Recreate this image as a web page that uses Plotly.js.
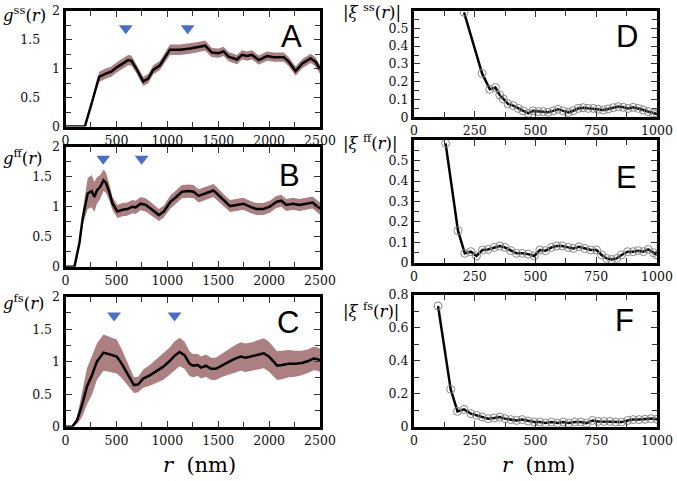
<!DOCTYPE html>
<html>
<head>
<meta charset="utf-8">
<script src="https://cdn.plot.ly/plotly-3.0.1.min.js"></script>
<style>
  html, body { margin: 0; padding: 0; background: #fff; }
  #chart { width: 677px; height: 481px; }
</style>
</head>
<body>
<div id="chart"></div>
<script>
// g^ss(r) : panel A
const rA = [0, 190, 260, 330, 401, 450, 500, 566, 615, 648, 697, 763, 812, 862, 928, 1026, 1125, 1224, 1289, 1372, 1438, 1503, 1553, 1602, 1684, 1734, 1783, 1832, 1898, 1980, 2046, 2145, 2194, 2260, 2326, 2408, 2457, 2500];
const gA = [0, 0, 0.42, 0.86, 0.92, 0.95, 1.02, 1.09, 1.15, 1.14, 1.0, 0.78, 0.83, 0.98, 1.06, 1.33, 1.33, 1.35, 1.37, 1.40, 1.28, 1.27, 1.30, 1.21, 1.16, 1.24, 1.22, 1.24, 1.15, 1.22, 1.20, 1.20, 1.12, 0.96, 1.09, 1.18, 1.12, 0.99];
const eA = [0, 0, 0.02, 0.09, 0.09, 0.09, 0.09, 0.09, 0.09, 0.09, 0.08, 0.08, 0.08, 0.08, 0.08, 0.09, 0.09, 0.09, 0.09, 0.09, 0.08, 0.08, 0.08, 0.08, 0.08, 0.08, 0.08, 0.08, 0.08, 0.08, 0.08, 0.08, 0.08, 0.08, 0.08, 0.08, 0.08, 0.08];

// g^ff(r) : panel B
const rB = [0, 88, 137, 169, 218, 257, 283, 309, 341, 374, 397, 429, 462, 510, 559, 608, 657, 689, 738, 787, 836, 884, 917, 966, 1031, 1079, 1144, 1209, 1258, 1307, 1356, 1404, 1453, 1486, 1551, 1616, 1681, 1746, 1811, 1876, 1941, 2006, 2071, 2120, 2168, 2233, 2298, 2363, 2428, 2477, 2500];
const gB = [0, 0, 0.40, 0.81, 1.22, 1.26, 1.16, 1.27, 1.33, 1.44, 1.40, 1.25, 1.05, 0.92, 0.95, 0.96, 1.00, 0.99, 1.05, 1.03, 0.97, 0.90, 0.86, 0.92, 1.08, 1.15, 1.25, 1.26, 1.25, 1.18, 1.21, 1.25, 1.27, 1.22, 1.11, 1.01, 1.03, 1.05, 1.00, 0.96, 0.96, 1.00, 1.08, 1.10, 1.03, 1.05, 1.03, 1.05, 1.07, 1.00, 0.97];
const eB = [0, 0, 0.02, 0.12, 0.26, 0.27, 0.25, 0.22, 0.2, 0.18, 0.17, 0.14, 0.11, 0.11, 0.11, 0.11, 0.11, 0.11, 0.11, 0.11, 0.11, 0.1, 0.1, 0.1, 0.11, 0.11, 0.11, 0.11, 0.11, 0.11, 0.11, 0.11, 0.11, 0.11, 0.1, 0.1, 0.1, 0.1, 0.1, 0.1, 0.1, 0.1, 0.1, 0.1, 0.1, 0.1, 0.1, 0.1, 0.1, 0.1, 0.1];

// g^fs(r) : panel C
const rC = [0, 65, 114, 162, 211, 260, 308, 373, 438, 503, 552, 617, 672, 714, 763, 828, 893, 958, 1023, 1071, 1120, 1169, 1218, 1250, 1299, 1331, 1380, 1429, 1477, 1542, 1607, 1672, 1721, 1769, 1834, 1899, 1948, 1997, 2045, 2078, 2127, 2192, 2256, 2321, 2386, 2435, 2477, 2500];
const gC = [0, 0, 0.10, 0.33, 0.62, 0.79, 1.00, 1.14, 1.11, 1.08, 0.97, 0.79, 0.64, 0.65, 0.74, 0.79, 0.86, 0.92, 1.01, 1.09, 1.15, 1.10, 0.97, 0.94, 0.95, 0.91, 0.94, 0.89, 0.89, 0.95, 1.00, 1.05, 1.08, 1.06, 1.08, 1.11, 1.13, 1.08, 1.00, 0.94, 0.95, 0.97, 0.97, 0.98, 1.01, 1.05, 1.04, 1.02];
const eC = [0, 0, 0.06, 0.18, 0.28, 0.3, 0.28, 0.28, 0.27, 0.26, 0.22, 0.16, 0.12, 0.12, 0.14, 0.16, 0.18, 0.2, 0.21, 0.22, 0.22, 0.21, 0.19, 0.18, 0.17, 0.17, 0.17, 0.17, 0.17, 0.18, 0.2, 0.21, 0.22, 0.22, 0.22, 0.23, 0.23, 0.23, 0.22, 0.22, 0.22, 0.21, 0.2, 0.19, 0.18, 0.18, 0.18, 0.18];

// |xi^ss(r)| : panel D
const rD = [206, 280, 312, 335, 353, 367, 387, 408, 429, 449, 470, 490, 511, 532, 552, 573, 593, 614, 635, 655, 676, 696, 717, 738, 758, 779, 799, 820, 841, 861, 882, 902, 923, 944, 964, 985, 1000];
const xiD = [0.59, 0.247, 0.157, 0.167, 0.125, 0.103, 0.075, 0.066, 0.05, 0.036, 0.022, 0.036, 0.032, 0.032, 0.028, 0.036, 0.045, 0.036, 0.028, 0.037, 0.05, 0.054, 0.05, 0.05, 0.045, 0.041, 0.047, 0.054, 0.06, 0.056, 0.05, 0.056, 0.05, 0.041, 0.032, 0.022, 0.019];

// |xi^ff(r)| : panel E
const rE = [130, 181, 209, 234, 257, 282, 305, 330, 353, 374, 398, 422, 445, 470, 495, 518, 541, 566, 587, 610, 635, 655, 679, 703, 728, 751, 772, 793, 813, 834, 854, 879, 902, 923, 944, 964, 985, 1000];
const xiE = [0.585, 0.157, 0.046, 0.054, 0.033, 0.062, 0.065, 0.075, 0.082, 0.075, 0.059, 0.046, 0.046, 0.042, 0.033, 0.062, 0.059, 0.075, 0.082, 0.082, 0.075, 0.07, 0.078, 0.07, 0.062, 0.062, 0.038, 0.021, 0.016, 0.021, 0.038, 0.054, 0.054, 0.059, 0.054, 0.065, 0.049, 0.038];

// |xi^fs(r)| : panel F
const rF = [99, 151, 179, 206, 234, 257, 280, 305, 330, 353, 374, 398, 422, 445, 470, 495, 518, 541, 566, 591, 614, 637, 662, 687, 710, 734, 758, 783, 806, 830, 854, 879, 902, 926, 951, 975, 1000];
const xiF = [0.733, 0.227, 0.093, 0.105, 0.079, 0.069, 0.059, 0.049, 0.053, 0.059, 0.049, 0.043, 0.038, 0.043, 0.034, 0.028, 0.028, 0.022, 0.028, 0.022, 0.028, 0.022, 0.028, 0.028, 0.022, 0.038, 0.032, 0.032, 0.032, 0.028, 0.028, 0.038, 0.043, 0.043, 0.045, 0.049, 0.045];

// blue arrowheads marking peaks
const peaksA = { r: [592, 1200], g: [1.70, 1.70] };
const peaksB = { r: [371, 748], g: [1.80, 1.80] };
const peaksC = { r: [477, 1071], g: [1.71, 1.71] };

const gTicks = [0, 0.5, 1, 1.5, 2];
const xiTicksDE = [0, 0.1, 0.2, 0.3, 0.4, 0.5];
const xiTicksF = [0, 0.2, 0.4, 0.6, 0.8];

// Liberation Serif doesn't seem to resolve here, DejaVu Serif does
const SERIF = "DejaVu Serif";
const SANS = "Liberation Sans";
const BAND = "rgb(172,128,128)";
const BLUE = "#4a6ec8";
const W = 677, H = 481;

const traces = [];
function gPanel(r, g, e, peaks, n) {
  const xa = "x" + (n === 1 ? "" : n), ya = "y" + (n === 1 ? "" : n);
  traces.push({ x: r, y: g.map((v, i) => v - e[i]), xaxis: xa, yaxis: ya, mode: "lines",
    line: { width: 0, color: BAND }, hoverinfo: "skip" });
  traces.push({ x: r, y: g.map((v, i) => v + e[i]), xaxis: xa, yaxis: ya, mode: "lines",
    fill: "tonexty", fillcolor: BAND, line: { width: 0, color: BAND }, hoverinfo: "skip" });
  traces.push({ x: r, y: g, xaxis: xa, yaxis: ya, mode: "lines", line: { color: "#000", width: 2.5 } });
  traces.push({ x: peaks.r, y: peaks.g, xaxis: xa, yaxis: ya, mode: "markers",
    marker: { symbol: "triangle-down", size: 12, color: BLUE } });
}
function xiPanel(r, xi, n) {
  traces.push({ x: r, y: xi, xaxis: "x" + n, yaxis: "y" + n, mode: "lines+markers",
    line: { color: "#000", width: 2.5 },
    marker: { symbol: "circle-open", size: 8, color: "#888", line: { width: 1 } } });
}
gPanel(rA, gA, eA, peaksA, 1);
gPanel(rB, gB, eB, peaksB, 2);
gPanel(rC, gC, eC, peaksC, 3);
xiPanel(rD, xiD, 4);
xiPanel(rE, xiE, 5);
xiPanel(rF, xiF, 6);

const nb = "\u00a0";
function axis(dom, range, dtick, minor, anchor, extra) {
  return Object.assign({
    domain: dom, range: range, anchor: anchor, dtick: dtick, tick0: 0,
    showline: true, linewidth: 3, linecolor: "#000", mirror: "ticks",
    ticks: "inside", ticklen: 6, tickwidth: 1, tickcolor: "#333",
    minor: { dtick: minor, ticks: "inside", ticklen: 5, tickwidth: 1, tickcolor: "#333" },
    showgrid: false, zeroline: false, fixedrange: true,
    tickfont: { family: SERIF, size: 12.5, color: "#111" },
  }, extra || {});
}
function px(a, b) { return [a / W, b / W]; }
function py(bottom, top) { return [1 - bottom / H, 1 - top / H]; }
function gYaxis(dom, anchor, pad) {
  return axis(dom, [0, 2], 0.5, 0.25, anchor, {
    tickmode: "array", tickvals: gTicks,
    ticktext: gTicks.map(v => Number.isInteger(v) ? String(v) : v + nb.repeat(pad)),
  });
}

const xL = px(65.5, 320), xR = px(414, 657);
const layout = {
  width: W, height: H, margin: { l: 0, r: 0, t: 0, b: 0 },
  paper_bgcolor: "#fff", plot_bgcolor: "#fff", showlegend: false,
  xaxis: axis(xL, [0, 2500], 500, 250, "y"),
  yaxis: gYaxis(py(126.5, 11), "x", 5),
  xaxis2: axis(xL, [0, 2500], 500, 250, "y2"),
  yaxis2: gYaxis(py(266.7, 146.7), "x2", 2),
  xaxis3: axis(xL, [0, 2500], 500, 250, "y3"),
  yaxis3: gYaxis(py(426.7, 296.7), "x3", 2),
  xaxis4: axis(xR, [0, 1000], 250, 125, "y4"),
  yaxis4: axis(py(117.3, 10.5), [0, 0.6], 0.1, 0.05, "x4", { tickmode: "array", tickvals: xiTicksDE }),
  xaxis5: axis(xR, [0, 1000], 250, 125, "y5"),
  yaxis5: axis(py(262.7, 140.3), [0, 0.6], 0.1, 0.05, "x5", { tickmode: "array", tickvals: xiTicksDE }),
  xaxis6: axis(xR, [0, 1000], 250, 125, "y6"),
  yaxis6: axis(py(426.7, 295), [0, 0.8], 0.2, 0.1, "x6", { tickmode: "array", tickvals: xiTicksF }),
  annotations: [],
};

// panel letters
[["A", "x", "y", 2220, 1.56], ["B", "x2", "y2", 2200, 1.52], ["C", "x3", "y3", 2190, 1.6],
 ["D", "x4", "y4", 875, 0.453], ["E", "x5", "y5", 875, 0.42], ["F", "x6", "y6", 868, 0.646]]
  .forEach(([t, xr, yr, x, y]) => layout.annotations.push({
    text: t, xref: xr, yref: yr, x: x, y: y, showarrow: false,
    font: { family: SANS, size: 31, color: "#000" } }));

// y titles
[["<i>g</i><sup>ss</sup>(<i>r</i>)", 1, 14], ["<i>g</i><sup>ff</sup>(<i>r</i>)", 1, 157],
 ["<i>g</i><sup>fs</sup>(<i>r</i>)", 1, 302], ["|<i>ξ</i> <sup>ss</sup>(<i>r</i>)|", 341, 11],
 ["|<i>ξ</i> <sup>ff</sup>(<i>r</i>)|", 341, 142], ["|<i>ξ</i> <sup>fs</sup>(<i>r</i>)|", 341, 310]]
  .forEach(([t, x, y]) => layout.annotations.push({
    text: t, xref: "paper", yref: "paper", x: x / W, y: 1 - y / H, xanchor: "left", yanchor: "middle",
    showarrow: false, font: { family: SERIF, size: 16.5, color: "#000" } }));

// x titles
[199, 538].forEach(x => layout.annotations.push({
  text: "<i>r</i>  (nm)", xref: "paper", yref: "paper", x: x / W, y: 1 - 465 / H,
  xanchor: "center", yanchor: "middle", showarrow: false,
  font: { family: SERIF, size: 21, color: "#000" } }));

Plotly.newPlot("chart", traces, layout, { staticPlot: true, displayModeBar: false });
</script>
</body>
</html>
